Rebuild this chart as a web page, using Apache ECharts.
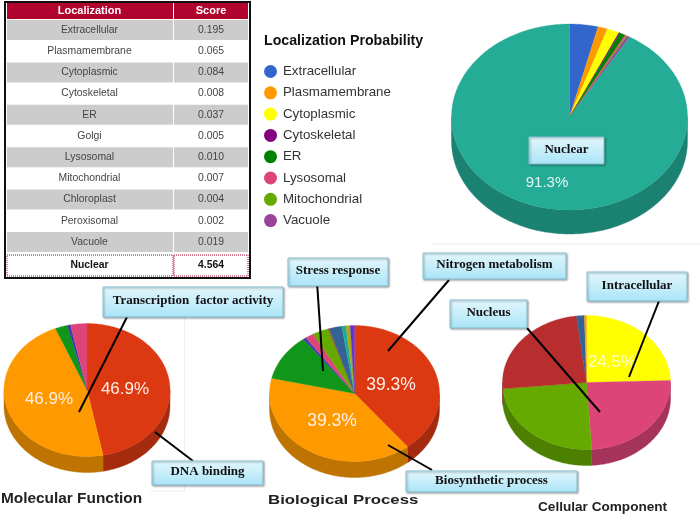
<!DOCTYPE html>
<html><head><meta charset="utf-8">
<style>html,body{margin:0;padding:0;background:#fff}#c{width:700px;height:520px}</style>
<script src="https://cdn.jsdelivr.net/npm/echarts@6/dist/echarts.min.js"></script>
</head><body><div id="c"></div>
<script>
// ---- data ----
const tableHeader = ['Localization', 'Score'];
const tableNames = ['Extracellular','Plasmamembrane','Cytoplasmic','Cytoskeletal','ER','Golgi','Lysosomal','Mitochondrial','Chloroplast','Peroxisomal','Vacuole','Nuclear'];
const tableScores = ['0.195','0.065','0.084','0.008','0.037','0.005','0.010','0.007','0.004','0.002','0.019','4.564'];

const localizationNames = ['Extracellular','Plasmamembrane','Cytoplasmic','Cytoskeletal','ER','Lysosomal','Mitochondrial','Vacuole','Nuclear'];
const localizationValues = [0.195,0.065,0.084,0.008,0.037,0.010,0.007,0.019,4.564];
const localizationColors = ['#3366CC','#FF9900','#FFFF00','#800080','#008000','#DD4477','#66AA00','#994499','#24AC96'];
const legendNames = localizationNames.slice(0, 8);

const molecularValues = [46.9,46.9,2.4,0.6,3.2];
const molecularColors = ['#DC3912','#FF9900','#109618','#3B3EAC','#DD4477'];

const biologicalValues = [39.3,39.3,11.1,0.6,1.6,3.1,0.2,2.4,0.8,0.8,0.8];
const biologicalColors = ['#DC3912','#FF9900','#109618','#3B3EAC','#DD4477','#66AA00','#B82E2E','#316395','#22AA99','#AAAA11','#6633CC'];

const cellularValues = [24.5,24.5,24.5,24.6,1.5,0.4];
const cellularColors = ['#FFFF00','#DD4477','#66AA00','#B82E2E','#316395','#FF9900'];

const pieLabels = ['91.3%','46.9%','46.9%','39.3%','39.3%','24.5%'];
const titles = ['Localization Probability','Molecular Function','Biological Process','Cellular Component'];
const calloutTexts = ['Nuclear','Transcription  factor activity','DNA binding','Stress response','Nitrogen metabolism','Biosynthetic process','Nucleus','Intracellular'];

// ---- layout ----
const FONT = '"Liberation Sans", Arial, sans-serif';
const pieGeometry = {
  main: {cx: 569.5, cy: 117, rx: 118, ry: 93, depth: 24},
  molecular: {cx: 87, cy: 390, rx: 83, ry: 66.5, depth: 16},
  biological: {cx: 354.5, cy: 393.5, rx: 85, ry: 68, depth: 16},
  cellular: {cx: 586.5, cy: 382.5, rx: 84, ry: 67, depth: 16}
};
function darken(hex, k) {
  const n = parseInt(hex.slice(1), 16);
  const f = s => Math.round(((n >> s) & 255) * k);
  return 'rgb(' + f(16) + ',' + f(8) + ',' + f(0) + ')';
}
function makePie(values, colors, geo, names) {
  const total = values.reduce((a, b) => a + b, 0);
  let acc = 0;
  return values.map((v, i) => {
    const start = acc / total * 360;
    acc += v;
    const end = acc / total * 360;
    return {
      type: 'custom',
      coordinateSystem: 'none',
      name: names ? names[i] : undefined,
      silent: true,
      animation: false,
      itemStyle: {color: colors[i]},
      data: [[start, end, v]],
      renderItem: function (params, api) {
        const a0 = api.value(0), a1 = api.value(1);
        const P = (deg, dy) => {
          const r = deg * Math.PI / 180;
          return [geo.cx + geo.rx * Math.sin(r), geo.cy - geo.ry * Math.cos(r) + (dy || 0)];
        };
        const step = 1;
        const top = [[geo.cx, geo.cy]];
        for (let d = a0; d < a1; d += step) top.push(P(d));
        top.push(P(a1));
        const kids = [];
        // visible rim: the lower half of the ellipse only
        const s0 = Math.max(a0, 90), s1 = Math.min(a1, 270);
        if (s1 > s0) {
          const rim = [];
          for (let d = s0; d < s1; d += step) rim.push(P(d));
          rim.push(P(s1));
          const low = [];
          for (let d = s1; d > s0; d -= step) low.push(P(d, geo.depth));
          low.push(P(s0, geo.depth));
          const side = darken(colors[i], 0.75);
          kids.push({type: 'polygon', shape: {points: rim.concat(low)},
            style: {fill: side, stroke: side, lineWidth: 0.4}});
        }
        kids.push({type: 'polygon', shape: {points: top},
          style: {fill: colors[i], stroke: colors[i], lineWidth: 0.3}});
        return {type: 'group', children: kids};
      }
    };
  });
}

const series = [].concat(
  makePie(localizationValues, localizationColors, pieGeometry.main, localizationNames),
  makePie(molecularValues, molecularColors, pieGeometry.molecular),
  makePie(biologicalValues, biologicalColors, pieGeometry.biological),
  makePie(cellularValues, cellularColors, pieGeometry.cellular)
);

// ---- static graphics ----
const g = [];
const Z = 10;
// faint panel edges
[[184.5,317,184.5,491],[150,491,184.5,491],[432,244,700,244]].forEach(l => g.push({
  type: 'line', z: 0, silent: true, shape: {x1:l[0],y1:l[1],x2:l[2],y2:l[3]}, style: {stroke:'#eeeeee',lineWidth:1}
}));
// table
const colX = [7, 174], colW = [166, 74], colC = [89.5, 211];
g.push({type:'rect', z:1, shape:{x:5,y:2,width:245,height:276}, style:{fill:'#fff',stroke:'#111',lineWidth:2}});
tableHeader.forEach((h, c) => {
  g.push({type:'rect', z:2, shape:{x:colX[c],y:3,width:colW[c],height:16}, style:{fill:'#B0042E'}});
  g.push({type:'text', z:3, x:colC[c], y:11, style:{text:h, fill:'#fff', font:'bold 11px '+FONT, align:'center', verticalAlign:'middle'}});
});
tableNames.forEach((n, i) => {
  const y = 30 + i * 21.2;
  const last = i === tableNames.length - 1;
  const yc = last ? 265 : y;
  colX.forEach((x, c) => {
    if (last) {
      g.push({type:'rect', z:2, shape:{x:x,y:255,width:colW[c],height:21},
        style:{fill:'#fff',stroke:'#B0042E',lineWidth:1,lineDash:[1,1]}});
    } else if (i % 2 === 0) {
      g.push({type:'rect', z:2, shape:{x:x,y:y-10,width:colW[c],height:20}, style:{fill:'#CCCCCC'}});
    }
    g.push({type:'text', z:3, x:colC[c], y:yc, style:{
      text: c === 0 ? n : tableScores[i],
      fill: last ? '#111' : '#444',
      font: (last ? 'bold ' : '') + '10.4px ' + FONT, align:'center', verticalAlign:'middle'}});
  });
});
// percentage labels
[[547,183,15],[125,389,17],[49,399,17],[391,385,17.5],[332,421,17.5],[612,362,17]].forEach((p, i) => {
  g.push({type:'text', z:Z-1, x:p[0], y:p[1], style:{text:pieLabels[i], fill: i===5?'#FBFBD8':(i===0?'#E4F5F2':'#FFEFE6'),
    font:p[2]+'px '+FONT, align:'center', verticalAlign:'middle'}});
});
// leader lines
[[127,317,79,412],[155,432,193,461],[317,282,323,371],[449,280,388,351],[388,445,432,470],[527,328,600,412],[659,301,629,377]].forEach(l => {
  g.push({type:'line', z:Z, shape:{x1:l[0],y1:l[1],x2:l[2],y2:l[3]}, style:{stroke:'#000',lineWidth:2}});
});
// callouts
[[529,137,604,164],[103,287,283,317],[152,461,263,485],[288,258,388,286],[423,253,566,279],[406,471,577,492],[450,300,527,328],[587,272,687,301]].forEach((b, i) => {
  g.push({type:'rect', z:Z+1, shape:{x:b[0],y:b[1],width:b[2]-b[0],height:b[3]-b[1]}, style:{
    fill:{type:'linear',x:0,y:0,x2:0,y2:1,colorStops:[{offset:0,color:'#E4F7FC'},{offset:1,color:'#A9E4F8'}]},
    stroke:'#8CC4D6', lineWidth:1, shadowBlur:2, shadowColor:'rgba(0,0,0,0.35)', shadowOffsetY:1, shadowOffsetX:1}});
  g.push({type:'text', z:Z+2, x:(b[0]+b[2])/2, y:(b[1]+b[3])/2 - 1, style:{text:calloutTexts[i], fill:'#111',
    font:'bold 13px "Liberation Serif", serif', align:'center', verticalAlign:'middle'}});
});
// stretched heading
g.push({type:'text', z:3, x:268, y:501, scaleX:1.2, scaleY:0.9, style:{text:titles[2], fill:'#222',
  font:'bold 14px '+FONT, align:'left', verticalAlign:'middle'}});

const option = {
  animation: false,
  backgroundColor: '#fff',
  title: [
    {text:titles[0], left:264, top:34, padding:0, textStyle:{fontFamily:FONT,fontWeight:'bold',fontSize:14.2,color:'#111'}},
    {text:titles[1], left:1, top:491, padding:0, textStyle:{fontFamily:FONT,fontWeight:'bold',fontSize:15.4,color:'#222'}},
    {text:titles[3], left:538, top:500, padding:0, textStyle:{fontFamily:FONT,fontWeight:'bold',fontSize:13.6,color:'#222'}}
  ],
  legend: {
    orient:'vertical', left:264, top:65, padding:0, icon:'circle',
    itemWidth:13, itemHeight:13, itemGap:8.3, itemStyle:{borderWidth:0},
    selectedMode:false, data:legendNames,
    textStyle:{fontFamily:FONT,fontSize:13.3,color:'#333',padding:[0,0,0,1]}
  },
  graphic: {elements: g},
  series: series
};
const chart = echarts.init(document.getElementById('c'), null, {renderer:'canvas'});
chart.setOption(option);
</script></body></html>
